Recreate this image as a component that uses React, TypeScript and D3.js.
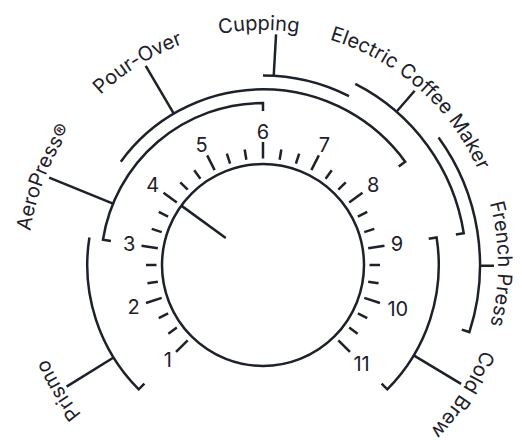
import React from 'react';
import * as d3 from 'd3';

// ---- data ----
const dialValues = [1, 2, 3, 4, 5, 6, 7, 8, 9, 10, 11];
const ticksPerUnit = 3;
const needleValue = 4;

const methods = ['Prismo', 'AeroPress®', 'Pour-Over', 'Cupping', 'Electric Coffee Maker', 'French Press', 'Cold Brew'];
const rangeStart = [1, 3, 4, 6, 7, 8, 9];
const rangeEnd = [3, 6, 8, 7, 9, 10, 11];
const lanes = [1, 0, 1, 2, 3, 4, 1];
const startCap = [true, true, false, false, false, false, true];
const endCap = [false, true, true, false, true, true, true];
const leaderValue = [1.49, 3.49, 4.87, 6.12, 7.52, 9.34, 10.48];
const labelValue = [1.5, 3.47, 4.82, 5.96, 7.53, 9.32, 10.55];

// ---- layout ----
const W = 522;
const H = 444;
const cx = 263;
const cy = 265;
const R = 101;
const ink = '#1d2129';
const font = 'Inter, "Noto Sans", sans-serif';

const angle = d3.scaleLinear().domain([1, 11]).range([-135, 135]);
const lane = d3.scaleLinear().domain([0, 4]).range([162, 217]);
const rad = (deg: number) => (deg * Math.PI) / 180;
const pt = (deg: number, r: number): [number, number] => [cx + r * Math.sin(rad(deg)), cy - r * Math.cos(rad(deg))];

const tickValues = d3.range(0, (dialValues.length - 1) * ticksPerUnit + 1).map((i) => ({
  v: dialValues[0] + i / ticksPerUnit,
  major: i % ticksPerUnit === 0,
}));

const labelR = 235;
const leaderOuter = 231;
const hook = 8;

function bracketPath(i: number) {
  const r = lane(lanes[i]);
  const a0 = angle(rangeStart[i]);
  const a1 = angle(rangeEnd[i]);
  const p = d3.path();
  const s = startCap[i] ? pt(a0, r - hook) : pt(a0, r);
  p.moveTo(s[0], s[1]);
  p.arc(cx, cy, r, rad(a0 - 90), rad(a1 - 90), false);
  if (endCap[i]) {
    const e = pt(a1, r - hook);
    p.lineTo(e[0], e[1]);
  }
  return p.toString();
}

const circ = 2 * Math.PI * labelR;
const labelPathD = `M ${cx},${cy + labelR} A ${labelR},${labelR} 0 1,1 ${cx},${cy - labelR} A ${labelR},${labelR} 0 1,1 ${cx},${cy + labelR}`;

function digitWidth(s: string) {
  let w = 0;
  for (const ch of s) w += ch === '1' ? 8 : 12;
  return w;
}

export default function App() {
  const needleA = angle(needleValue);
  const n0 = pt(needleA, 46);
  const n1 = pt(needleA, R);
  return (
    <svg width={W} height={H} viewBox={`0 0 ${W} ${H}`} style={{ position: 'absolute', left: 0, top: 0, background: '#fff' }}>
      <defs>
        <path id="labelCircle" d={labelPathD} fill="none" />
      </defs>
      {/* dial circle */}
      <circle cx={cx} cy={cy} r={R} fill="none" stroke={ink} strokeWidth={2.5} />
      {/* ticks */}
      {tickValues.map((t, i) => {
        const a = angle(t.v);
        const p0 = pt(a, 106.5);
        const p1 = pt(a, t.major ? 123 : 117);
        return <line key={i} x1={p0[0]} y1={p0[1]} x2={p1[0]} y2={p1[1]} stroke={ink} strokeWidth={2.5} />;
      })}
      {/* numbers */}
      {dialValues.map((v) => {
        const a = angle(v);
        const s = String(v);
        const r = 129 + (digitWidth(s) / 2) * Math.abs(Math.sin(rad(a))) + 4 * Math.abs(Math.cos(rad(a))) + (s.length > 1 ? 2 : 0);
        const [x, y] = pt(a, r);
        return (
          <text key={v} x={x} y={y} dy="0.36em" textAnchor="middle" fontFamily={font} fontSize={20} fill={ink}>
            {s}
          </text>
        );
      })}
      {/* needle */}
      <line x1={n0[0]} y1={n0[1]} x2={n1[0]} y2={n1[1]} stroke={ink} strokeWidth={2.5} />
      {/* brackets */}
      {methods.map((m, i) => (
        <path key={m} d={bracketPath(i)} fill="none" stroke={ink} strokeWidth={2.5} strokeLinejoin="miter" />
      ))}
      {/* leaders */}
      {methods.map((m, i) => {
        const a = angle(leaderValue[i]);
        const p0 = pt(a, lane(lanes[i]));
        const p1 = pt(a, leaderOuter);
        return <line key={m} x1={p0[0]} y1={p0[1]} x2={p1[0]} y2={p1[1]} stroke={ink} strokeWidth={2.5} />;
      })}
      {/* labels */}
      {methods.map((m, i) => {
        const a = angle(labelValue[i]);
        const off = ((a + 180) / 360) * circ;
        return (
          <text key={m} fontFamily={font} fontSize={20} fill={ink} textAnchor="middle">
            <textPath href="#labelCircle" startOffset={off}>
              {m}
            </textPath>
          </text>
        );
      })}
    </svg>
  );
}
